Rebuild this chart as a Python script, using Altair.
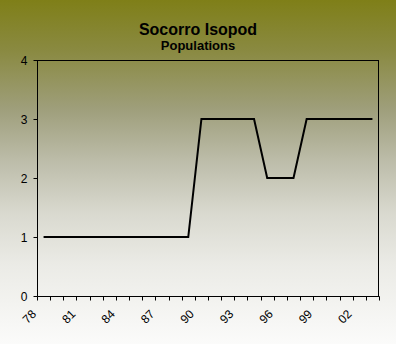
import altair as alt
import pandas as pd

years = list(range(1978, 2004))
population = [1, 1, 1, 1, 1, 1, 1, 1, 1, 1, 1, 1,
              3, 3, 3, 3, 3,
              2, 2, 2,
              3, 3, 3, 3, 3, 3]
tick_labels = ["78", "81", "84", "87", "90", "93", "96", "99", "02"]
label_years = [1978, 1981, 1984, 1987, 1990, 1993, 1996, 1999, 2002]

df = pd.DataFrame({"year": years, "pop": population})

# ticks sit at category boundaries
tick_vals = [y - 0.5 for y in years] + [years[-1] + 0.5]
expr = "''"
for ly, lab in reversed(list(zip(label_years, tick_labels))):
    expr = f"datum.value == {ly - 0.5} ? '{lab}' : ({expr})"

FONT = "Liberation Sans"

bg = alt.Chart(alt.Data(values=[{}])).mark_rect(
    fill=alt.Gradient(
        gradient="linear",
        stops=[
            alt.GradientStop(color="#7f7f18", offset=0),
            alt.GradientStop(color="#8a8a42", offset=0.15),
            alt.GradientStop(color="#9f9f7c", offset=0.32),
            alt.GradientStop(color="#bdbdaa", offset=0.47),
            alt.GradientStop(color="#d9d9cf", offset=0.62),
            alt.GradientStop(color="#ebebe6", offset=0.77),
            alt.GradientStop(color="#fbfbfa", offset=1),
        ],
        x1=0, x2=0, y1=0, y2=1,
    )
).encode(
    x=alt.value(-37), x2=alt.value(359), y=alt.value(-60), y2=alt.value(284)
)

border = alt.Chart(alt.Data(values=[{}])).mark_rule(color="black", strokeWidth=1)
top_border = border.encode(x=alt.value(0), x2=alt.value(342), y=alt.value(0.5))
right_border = border.encode(x=alt.value(341.5), y=alt.value(0), y2=alt.value(236))

line = alt.Chart(df).mark_line(color="black", strokeWidth=2).encode(
    x=alt.X("year:Q",
            scale=alt.Scale(domain=[years[0] - 0.5, years[-1] + 0.5], nice=False, zero=False),
            axis=alt.Axis(values=tick_vals, labelExpr=expr, labelAngle=-45,
                          labelAlign="right", labelBaseline="top",
                          labelFontSize=12, labelFont=FONT, labelColor="black",
                          labelPadding=8, labelOffset=-7,
                          labelOverlap=False, labelBound=False,
                          labelFlush=False, zindex=1,
                          tickColor="black", tickSize=4, domainColor="black",
                          grid=False, title=None)),
    y=alt.Y("pop:Q", scale=alt.Scale(domain=[0, 4], nice=False),
            axis=alt.Axis(values=[0, 1, 2, 3, 4], format="d", zindex=1,
                          labelFontSize=12, labelFont=FONT, labelColor="black",
                          labelPadding=6, tickColor="black", tickSize=4,
                          domainColor="black", grid=False, title=None)),
)

chart = alt.layer(bg, top_border, right_border, line).properties(
    width=342, height=236,
    autosize=alt.AutoSizeParams(type="none"),
    padding={"left": 37, "top": 60, "right": 17, "bottom": 48},
    background="white",
    title=alt.TitleParams(
        "Socorro Isopod", subtitle="Populations",
        anchor="middle", dx=-10, offset=-53, zindex=1, frame="group",
        font=FONT, fontSize=16, fontWeight="bold", color="black",
        subtitleFont=FONT, subtitleFontSize=13, subtitleFontWeight="bold",
        subtitleColor="black", subtitlePadding=2,
    ),
).configure_view(stroke=None)

chart.save("out.html", embed_options={"renderer": "svg", "actions": False})
